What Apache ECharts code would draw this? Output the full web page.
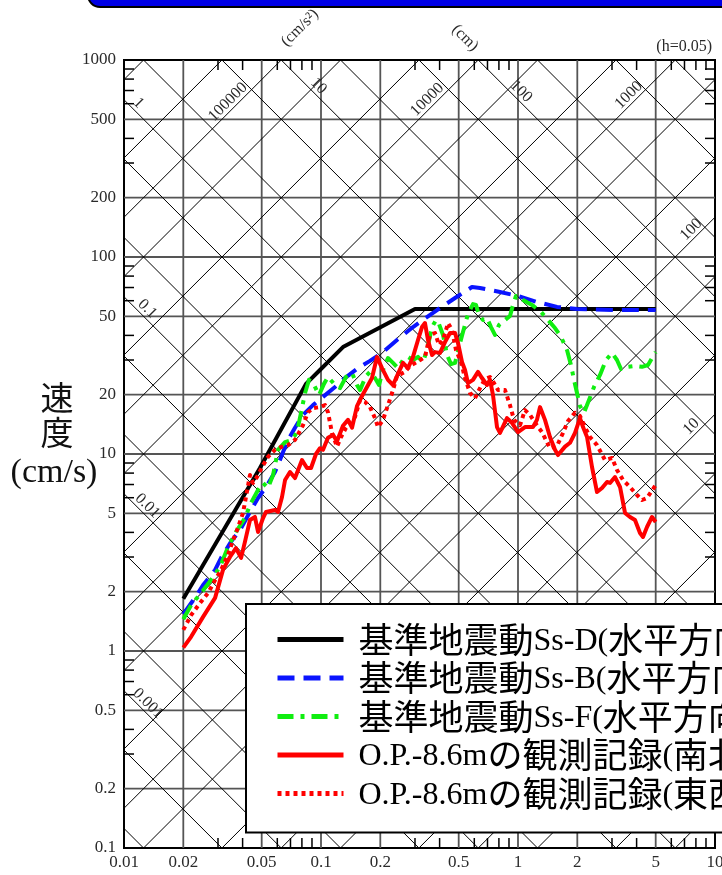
<!DOCTYPE html>
<html>
<head>
<meta charset="utf-8">
<script src="https://cdn.jsdelivr.net/npm/echarts@6/dist/echarts.min.js"></script>
<style>
html, body { margin: 0; padding: 0; background: #fff; }
#chart { width: 722px; height: 875px; }
</style>
</head>
<body>
<div id="chart"></div>
<script>
// Axis ticks: period T (s) and pseudo-velocity Sv (cm/s)
const xTicks = [0.01, 0.02, 0.05, 0.1, 0.2, 0.5, 1, 2, 5, 10];
const yTicks = [0.1, 0.2, 0.5, 1, 2, 5, 10, 20, 50, 100, 200, 500, 1000];
const xMinor = [0.03, 0.04, 0.06, 0.07, 0.08, 0.09, 0.3, 0.4, 0.6, 0.7, 0.8, 0.9, 3, 4, 6, 7, 8, 9];
const yMinor = [0.3, 0.4, 0.6, 0.7, 0.8, 0.9, 3, 4, 6, 7, 8, 9, 30, 40, 60, 70, 80, 90, 300, 400, 600, 700, 800, 900];

// Tripartite grid: acceleration (cm/s2) and displacement (cm) lines
const accelLines = [0.1, 0.2, 0.5, 1, 2, 5, 10, 20, 50, 100, 200, 500, 1000, 2000, 5000,
  10000, 20000, 50000, 100000, 200000, 500000];
const dispLines = [0.0002, 0.0005, 0.001, 0.002, 0.005, 0.01, 0.02, 0.05, 0.1, 0.2, 0.5,
  1, 2, 5, 10, 20, 50, 100, 200, 500, 1000];
const accelLabels = [100000, 10000, 1000, 100, 10];
const dispLabels = [1, 10, 100, 0.1, 0.01, 0.001];
// period at which each diagonal label sits on its line
const accelLabelAt = [0.036, 0.37, 3.9, 8.1, 8.1];
const dispLabelAt = [0.0111, 0.091, 0.97, 0.0123, 0.0123, 0.0124];

const seriesNames = [
  '基準地震動Ss-D(水平方向)',
  '基準地震動Ss-B(水平方向)',
  '基準地震動Ss-F(水平方向)',
  'O.P.-8.6mの観測記録(南北方向)',
  'O.P.-8.6mの観測記録(東西方向)'
];

// [period (s), velocity (cm/s)]
const ssD = [[0.02, 1.84], [0.049, 8.49], [0.0839, 22.7], [0.0988, 26.7], [0.1293, 34.9], [0.3, 54.5], [5.0, 54.5]];

const ssB = [[0.02, 1.54], [0.0229, 1.86], [0.0252, 2.16], [0.029, 2.58], [0.0311, 2.97], [0.0349, 3.58],
  [0.0388, 4.11], [0.0436, 5.08], [0.0479, 5.98], [0.0526, 6.8], [0.0584, 8.1], [0.0619, 9.32],
  [0.0672, 11.5], [0.0738, 13.6], [0.081, 15.8], [0.0911, 17.7], [0.1024, 19.5], [0.1178, 21.9],
  [0.1323, 24.3], [0.1541, 27.3], [0.1773, 29.7], [0.2064, 32.9], [0.243, 37.9], [0.2931, 44.1],
  [0.388, 53.8], [0.479, 61.9], [0.584, 70.4], [0.6413, 69.6], [0.8103, 66.4], [1.0, 63.4],
  [1.248, 59.1], [1.578, 55.8], [1.993, 54.5], [3.035, 53.8], [5.0, 53.8]];

const ssF = [[0.02, 1.45], [0.0219, 1.71], [0.0246, 1.97], [0.0276, 2.29], [0.0307, 2.67], [0.0337, 3.37],
  [0.037, 4.02], [0.0411, 4.73], [0.0441, 5.64], [0.0479, 6.57], [0.0508, 7.13], [0.0538, 6.72],
  [0.0571, 7.82], [0.0605, 10.5], [0.0657, 11.5], [0.0713, 11.8], [0.0755, 12.9], [0.0792, 16.2],
  [0.083, 20.4], [0.0869, 23.8], [0.0922, 22.4], [0.0977, 19.9], [0.1035, 22.7], [0.1085, 24.6],
  [0.1178, 22.4], [0.1249, 21.6], [0.1339, 24.6], [0.1437, 25.8], [0.1523, 22.4], [0.1578, 21.1],
  [0.1692, 24.9], [0.1773, 26.1], [0.188, 24.3], [0.197, 22.4], [0.2064, 26.7], [0.2188, 30.7],
  [0.232, 29.0], [0.2459, 27.3], [0.2607, 30.0], [0.2764, 31.1], [0.2931, 30.0], [0.3107, 31.1],
  [0.3295, 29.3], [0.3451, 33.7], [0.3661, 44.1], [0.3835, 47.9], [0.3972, 45.7], [0.4164, 40.2],
  [0.4362, 31.8], [0.4571, 28.6], [0.479, 29.0], [0.5017, 34.9], [0.5257, 41.6], [0.5574, 51.4],
  [0.5909, 57.7], [0.6119, 57.1], [0.6338, 50.8], [0.6644, 47.9], [0.696, 49.0], [0.7295, 44.1],
  [0.7641, 40.2], [0.8008, 45.2], [0.859, 47.9], [0.9108, 50.2], [0.9432, 57.1], [0.9768, 63.4],
  [1.06, 60.5], [1.178, 57.1], [1.309, 52.6], [1.42, 47.9], [1.541, 43.6], [1.653, 39.3],
  [1.773, 33.7], [1.858, 28.3], [1.924, 23.8], [1.993, 20.4], [2.064, 17.5], [2.163, 16.2],
  [2.293, 18.8], [2.431, 21.9], [2.608, 25.2], [2.797, 30.0], [3.001, 32.6], [3.18, 30.0],
  [3.333, 27.0], [3.617, 27.7], [3.926, 28.0], [4.261, 27.7], [4.571, 28.3], [4.789, 30.7], [5.0, 32.9]];

const obsNS = [[0.02, 1.04], [0.0219, 1.18], [0.0252, 1.49], [0.029, 1.86], [0.0318, 2.58], [0.0345, 3.0],
  [0.037, 3.33], [0.0393, 2.97], [0.0411, 3.58], [0.0436, 4.62], [0.0462, 4.79], [0.0479, 4.02],
  [0.0508, 4.73], [0.0526, 5.08], [0.0584, 5.2], [0.0605, 5.08], [0.0634, 6.05], [0.0657, 7.38],
  [0.0696, 8.1], [0.0738, 7.55], [0.0801, 9.32], [0.0849, 8.49], [0.089, 8.49], [0.0943, 10.0],
  [0.0988, 10.7], [0.1024, 10.5], [0.1085, 12.1], [0.1151, 12.5], [0.1206, 11.6], [0.1293, 13.9],
  [0.1371, 14.9], [0.1437, 13.6], [0.1523, 17.5], [0.1615, 19.7], [0.1712, 21.9], [0.1815, 24.3],
  [0.1924, 31.1], [0.204, 27.3], [0.2188, 23.8], [0.232, 22.4], [0.2459, 25.5], [0.2607, 29.0],
  [0.2764, 27.3], [0.2931, 31.1], [0.3107, 37.9], [0.3256, 44.1], [0.3372, 46.2], [0.3492, 37.9],
  [0.3661, 31.8], [0.3791, 32.9], [0.4019, 32.6], [0.4261, 37.0], [0.4518, 41.1], [0.479, 41.1],
  [0.496, 36.6], [0.5196, 29.3], [0.5383, 26.7], [0.5574, 22.9], [0.5909, 23.8], [0.6266, 26.1],
  [0.6566, 24.3], [0.696, 22.4], [0.721, 23.8], [0.7467, 19.9], [0.7823, 13.7], [0.8103, 12.8],
  [0.8793, 15.2], [0.9322, 14.4], [1.0, 12.9], [1.085, 13.7], [1.191, 13.7], [1.248, 14.9],
  [1.293, 17.3], [1.371, 14.9], [1.453, 12.2], [1.541, 10.5], [1.596, 9.88], [1.733, 10.9],
  [1.837, 11.4], [1.947, 12.8], [2.064, 15.2], [2.138, 13.7], [2.241, 12.2], [2.375, 8.59],
  [2.518, 6.41], [2.67, 6.72], [2.831, 7.21], [2.931, 7.13], [3.107, 7.64], [3.295, 6.8],
  [3.493, 5.02], [3.703, 4.79], [3.926, 4.62], [4.162, 3.97], [4.311, 3.79], [4.517, 4.26],
  [4.789, 4.79], [5.0, 4.52]];

const obsEW = [[0.02, 1.28], [0.0219, 1.52], [0.0243, 1.75], [0.0267, 1.97], [0.029, 2.29], [0.0311, 2.58],
  [0.0337, 3.07], [0.0358, 3.66], [0.0375, 4.11], [0.0402, 5.02], [0.0436, 7.82], [0.0452, 7.13],
  [0.0473, 7.64], [0.0502, 8.59], [0.0538, 9.66], [0.0584, 10.5], [0.0634, 10.9], [0.068, 11.1],
  [0.0738, 11.8], [0.081, 14.0], [0.0859, 16.3], [0.0911, 17.1], [0.0988, 17.3], [0.1048, 17.7],
  [0.1085, 16.3], [0.1137, 12.8], [0.1206, 10.9], [0.1264, 12.2], [0.1339, 13.6], [0.1404, 14.4],
  [0.1488, 15.4], [0.1578, 18.8], [0.1673, 18.4], [0.1773, 17.3], [0.188, 15.2], [0.1947, 13.7],
  [0.2064, 14.9], [0.2188, 17.7], [0.232, 21.1], [0.243, 24.9], [0.267, 26.1], [0.283, 28.0],
  [0.3071, 29.3], [0.3372, 31.1], [0.3575, 40.2], [0.3791, 41.1], [0.3972, 35.8], [0.4164, 37.9],
  [0.4413, 46.2], [0.4624, 42.6], [0.4845, 33.7], [0.5137, 29.3], [0.5383, 24.3], [0.5707, 20.4],
  [0.6049, 19.2], [0.6413, 21.6], [0.68, 24.0], [0.721, 24.6], [0.7553, 22.9], [0.7918, 21.1],
  [0.859, 21.1], [0.9108, 17.7], [0.9543, 14.9], [1.024, 14.0], [1.085, 16.7], [1.151, 15.8],
  [1.22, 14.4], [1.324, 12.9], [1.453, 10.7], [1.578, 11.0], [1.692, 12.8], [1.794, 14.7],
  [1.947, 16.2], [2.064, 15.6], [2.188, 13.7], [2.32, 12.2], [2.518, 11.1], [2.764, 9.32],
  [3.001, 9.54], [3.18, 8.3], [3.412, 7.38], [3.703, 6.8], [4.019, 6.19], [4.261, 5.84],
  [4.517, 5.98], [5.0, 6.96]];

const TMIN = xTicks[0], TMAX = xTicks[xTicks.length - 1];
const VMIN = yTicks[0], VMAX = yTicks[yTicks.length - 1];
const W = 2 * Math.PI;

// straight segments in value space: [t1, v1, t2, v2]
const rectSegs = [];
xTicks.slice(1, -1).forEach(t => rectSegs.push([t, VMIN, t, VMAX]));
yTicks.slice(1, -1).forEach(v => rectSegs.push([TMIN, v, TMAX, v]));

const diagSegs = [];
accelLines.forEach(a => {
  const t1 = Math.max(TMIN, VMIN * W / a), t2 = Math.min(TMAX, VMAX * W / a);
  if (t2 > t1) diagSegs.push([t1, a * t1 / W, t2, a * t2 / W]);
});
dispLines.forEach(d => {
  const t1 = Math.max(TMIN, W * d / VMAX), t2 = Math.min(TMAX, W * d / VMIN);
  if (t2 > t1) diagSegs.push([t1, W * d / t1, t2, W * d / t2]);
});

const diagLabelData = [];
accelLabels.forEach((a, i) => diagLabelData.push([accelLabelAt[i], a * accelLabelAt[i] / W, a, 1]));
dispLabels.forEach((d, i) => diagLabelData.push([dispLabelAt[i], W * d / dispLabelAt[i], d, -1]));

const SERIF = '"Liberation Serif", "DejaVu Serif", serif';
const CJK = '"Noto Sans CJK JP", sans-serif';
const CJK_RUN = /([\u3000-\u9fff\uff00-\uffef]+)|([^\u3000-\u9fff\uff00-\uffef]+)/g;

function segItem(color, width) {
  return function (params, api) {
    const p1 = api.coord([api.value(0), api.value(1)]);
    const p2 = api.coord([api.value(2), api.value(3)]);
    return {
      type: 'line',
      shape: { x1: p1[0], y1: p1[1], x2: p2[0], y2: p2[1] },
      style: { stroke: color, lineWidth: width }
    };
  };
}

function textStyle(text, size, align, vAlign) {
  return {
    text: text, fill: '#2a2a2a', font: size + 'px ' + SERIF,
    fontSize: size, fontFamily: SERIF,
    align: align, verticalAlign: vAlign,
    textAlign: align, textVerticalAlign: vAlign
  };
}

const TICK = 10;

const chart = echarts.init(document.getElementById('chart'), null, { renderer: 'canvas' });

const curveStyles = [
  { color: '#000000', type: 'solid' },
  { color: '#0a14ff', type: [17, 9] },
  { color: '#10ee10', type: [16, 7, 4, 7] },
  { color: '#ff0000', type: 'solid' },
  { color: '#ff0000', type: [4, 4] }
];
const curveData = [ssD, ssB, ssF, obsNS, obsEW];

const curveSeries = curveData.map((d, i) => ({
  name: seriesNames[i],
  type: 'line',
  data: d,
  symbol: 'none',
  smooth: false,
  clip: true,
  z: 5,
  color: curveStyles[i].color,
  lineStyle: { color: curveStyles[i].color, width: 4, type: curveStyles[i].type, cap: 'butt', join: 'round' }
}));

chart.setOption({
  animation: false,
  backgroundColor: '#ffffff',
  grid: {
    left: 124, top: 60, width: 591, height: 788,
    show: true, borderColor: '#000', borderWidth: 2, backgroundColor: '#fff'
  },
  xAxis: {
    type: 'log', logBase: 10, min: TMIN, max: TMAX,
    axisLine: { show: false }, axisTick: { show: false }, axisLabel: { show: false }, splitLine: { show: false }
  },
  yAxis: {
    type: 'log', logBase: 10, min: VMIN, max: VMAX,
    axisLine: { show: false }, axisTick: { show: false }, axisLabel: { show: false }, splitLine: { show: false }
  },
  legend: {
    orient: 'vertical',
    left: 246, top: 604,
    padding: [18, 40, 21, 29],
    itemWidth: 66, itemHeight: 2, itemGap: 3,
    itemStyle: { opacity: 0 },
    lineStyle: { width: 5 },
    backgroundColor: '#fff', borderColor: '#000', borderWidth: 2,
    data: seriesNames,
    formatter: name => name.replace(CJK_RUN, (m, c, l) => c ? '{j|' + c + '}' : '{l|' + l + '}'),
    textStyle: {
      fontFamily: SERIF, fontSize: 32, color: '#000', padding: [0, 0, 0, 10],
      rich: {
        j: { fontFamily: CJK, fontSize: 35, lineHeight: 36, color: '#000' },
        l: { fontFamily: SERIF, fontSize: 32, lineHeight: 30, verticalAlign: 'bottom', color: '#000' }
      }
    }
  },
  graphic: [
    {
      type: 'rect', z: 10,
      shape: { x: 88, y: -40, width: 700, height: 47, r: 12 },
      style: { fill: '#0000e6', stroke: '#000', lineWidth: 2 }
    },
    { type: 'text', x: 57, y: 397, style: { text: '速', fill: '#111', font: '33px ' + CJK, textAlign: 'center', textVerticalAlign: 'middle', align: 'center', verticalAlign: 'middle' } },
    { type: 'text', x: 57, y: 432, style: { text: '度', fill: '#111', font: '33px ' + CJK, textAlign: 'center', textVerticalAlign: 'middle', align: 'center', verticalAlign: 'middle' } },
    { type: 'text', x: 54, y: 473, style: { text: '(cm/s)', fill: '#111', font: '34px ' + SERIF, textAlign: 'center', textVerticalAlign: 'middle', align: 'center', verticalAlign: 'middle' } },
    { type: 'text', x: 300, y: 28, rotation: Math.PI / 4, style: { text: '(cm/s²)', fill: '#2a2a2a', font: '16px ' + SERIF, textAlign: 'center', textVerticalAlign: 'middle', align: 'center', verticalAlign: 'middle' } },
    { type: 'text', x: 465, y: 38, rotation: -Math.PI / 4, style: { text: '(cm)', fill: '#2a2a2a', font: '16px ' + SERIF, textAlign: 'center', textVerticalAlign: 'middle', align: 'center', verticalAlign: 'middle' } },
    { type: 'text', x: 712, y: 47, style: { text: '(h=0.05)', fill: '#2a2a2a', font: '16px ' + SERIF, textAlign: 'right', textVerticalAlign: 'middle', align: 'right', verticalAlign: 'middle' } }
  ],
  series: [
    {
      type: 'custom', name: 'rectGrid', silent: true, z: 1, clip: true,
      data: rectSegs, renderItem: segItem('#555', 1.8)
    },
    {
      type: 'custom', name: 'diagGrid', silent: true, z: 1, clip: true,
      data: diagSegs, renderItem: segItem('#000', 1)
    },
    {
      type: 'custom', name: 'xMinorTicks', silent: true, z: 2,
      data: xMinor.map(t => [t, VMIN]),
      renderItem: (params, api) => {
        const b = api.coord([api.value(0), VMIN]);
        const t = api.coord([api.value(0), VMAX]);
        return {
          type: 'group', children: [
            { type: 'line', shape: { x1: b[0], y1: b[1], x2: b[0], y2: b[1] - TICK }, style: { stroke: '#000', lineWidth: 1.5 } },
            { type: 'line', shape: { x1: t[0], y1: t[1], x2: t[0], y2: t[1] + TICK }, style: { stroke: '#000', lineWidth: 1.5 } }
          ]
        };
      }
    },
    {
      type: 'custom', name: 'yMinorTicks', silent: true, z: 2,
      data: yMinor.map(v => [TMIN, v]),
      renderItem: (params, api) => {
        const l = api.coord([TMIN, api.value(1)]);
        const r = api.coord([TMAX, api.value(1)]);
        return {
          type: 'group', children: [
            { type: 'line', shape: { x1: l[0], y1: l[1], x2: l[0] + TICK, y2: l[1] }, style: { stroke: '#000', lineWidth: 1.5 } },
            { type: 'line', shape: { x1: r[0], y1: r[1], x2: r[0] - TICK, y2: r[1] }, style: { stroke: '#000', lineWidth: 1.5 } }
          ]
        };
      }
    },
    {
      type: 'custom', name: 'xTickLabels', silent: true, z: 6,
      data: xTicks.map(t => [t, VMIN]),
      renderItem: (params, api) => {
        const p = api.coord([api.value(0), api.value(1)]);
        return { type: 'text', x: p[0], y: p[1] + 15, style: textStyle(String(api.value(0)), 17, 'center', 'middle') };
      }
    },
    {
      type: 'custom', name: 'yTickLabels', silent: true, z: 6,
      data: yTicks.map(v => [TMIN, v]),
      renderItem: (params, api) => {
        const p = api.coord([api.value(0), api.value(1)]);
        return { type: 'text', x: p[0] - 8, y: p[1], style: textStyle(String(api.value(1)), 17, 'right', 'middle') };
      }
    },
    {
      type: 'custom', name: 'diagLabels', silent: true, z: 3,
      data: diagLabelData,
      renderItem: (params, api) => {
        const p = api.coord([api.value(0), api.value(1)]);
        return {
          type: 'text', x: p[0], y: p[1], rotation: api.value(3) * Math.PI / 4,
          style: textStyle(String(api.value(2)), 16, 'center', 'bottom')
        };
      }
    }
  ].concat(curveSeries)
});
</script>
</body>
</html>
